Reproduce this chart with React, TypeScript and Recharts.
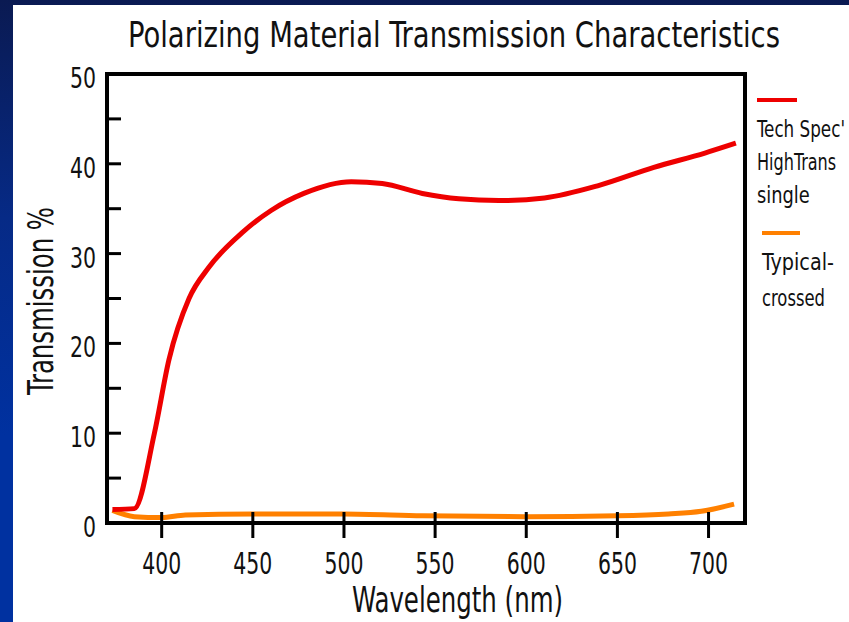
import React from 'react';
import { ComposedChart, Line, XAxis, YAxis, ReferenceArea } from 'recharts';

// wavelength ticks (nm) and transmission ticks (%)
const wavelengthTicks = [400, 450, 500, 550, 600, 650, 700];
const transmissionTicks = [0, 5, 10, 15, 20, 25, 30, 35, 40, 45, 50];

// Tech Spec HighTrans - single
const singleWavelength = [373, 385, 396, 404, 415, 426, 444, 460, 478, 504, 521, 543, 563, 585, 610, 640, 670, 698, 715];
const singleTransmission = [1.5, 1.6, 10, 18.2, 25, 28.5, 32.3, 34.8, 36.7, 38.0, 37.8, 36.7, 36.1, 35.9, 36.2, 37.6, 39.6, 41.2, 42.3];

// Typical - crossed
const crossedWavelength = [373, 385, 400, 413, 450, 500, 543, 600, 650, 678, 696, 714];
const crossedTransmission = [1.4, 0.7, 0.6, 0.9, 1.0, 1.0, 0.8, 0.7, 0.8, 1.0, 1.3, 2.1];

const legendSingle = ["Tech Spec'", 'HighTrans', 'single'];
const legendCrossed = ['Typical-', 'crossed'];

const RED = '#ee0000';
const ORANGE = '#ff8000';
const FONT = "'Liberation Sans Narrow', 'DejaVu Sans Condensed', 'Liberation Sans', sans-serif";

const singleData = singleWavelength.map((w, i) => ({ wavelength: w, transmission: singleTransmission[i] }));
const crossedData = crossedWavelength.map((w, i) => ({ wavelength: w, transmission: crossedTransmission[i] }));

const XTick = (props: any) => {
  const { x, y, payload } = props;
  const axisY = y - 10;
  const label = String(payload.value);
  return (
    <g>
      <line x1={x} x2={x} y1={axisY - 11} y2={axisY + 15} stroke="#000" strokeWidth={3} />
      <text x={x} y={axisY + 51} textAnchor="middle" fontFamily={FONT} fontSize={30} fill="#111"
        textLength={label.length * 13} lengthAdjust="spacingAndGlyphs">
        {label}
      </text>
    </g>
  );
};

const YTick = (props: any) => {
  const { x, y, payload } = props;
  const axisX = x + 10;
  const label = String(payload.value);
  const major = payload.value % 10 === 0;
  return (
    <g>
      <line x1={axisX} x2={axisX + 14} y1={y} y2={y} stroke="#000" strokeWidth={3} />
      {major && (
        <text x={x - 1} y={y + 14} textAnchor="end" fontFamily={FONT} fontSize={28} fill="#111"
          textLength={label.length * 13} lengthAdjust="spacingAndGlyphs">
          {label}
        </text>
      )}
    </g>
  );
};

export default function App() {
  return (
    <div style={{ position: 'fixed', left: 0, top: 0, width: 849, height: 622, overflow: 'hidden',
      background: 'linear-gradient(to bottom, #0a1a52 0%, #062a86 35%, #0031a0 70%, #0031a0 100%)' }}>
      <div style={{ position: 'absolute', left: 13, top: 5, right: 0, bottom: 0, background: '#ffffff' }} />
      <ComposedChart width={849} height={622} margin={{ top: 74, right: 104, bottom: 39, left: 7 }}
        style={{ position: 'absolute', left: 0, top: 0 }}>
        <XAxis type="number" dataKey="wavelength" domain={[370, 720]} ticks={wavelengthTicks} interval={0}
          allowDataOverflow axisLine={false} tickLine={false} tickSize={0} tickMargin={10} height={60}
          tick={(p: any) => <XTick {...p} />} />
        <YAxis type="number" domain={[0, 50]} ticks={transmissionTicks} interval={0}
          allowDataOverflow axisLine={false} tickLine={false} tickSize={0} tickMargin={10} width={100}
          tick={(p: any) => <YTick {...p} />} />
        <Line data={crossedData} dataKey="transmission" type="monotone" stroke={ORANGE} strokeWidth={5}
          dot={false} activeDot={false} isAnimationActive={false} />
        <Line data={singleData} dataKey="transmission" type="monotone" stroke={RED} strokeWidth={5}
          dot={false} activeDot={false} isAnimationActive={false} />
        <ReferenceArea x1={370} x2={720} y1={0} y2={50} fill="none" stroke="#000" strokeWidth={4}
          ifOverflow="visible" />
      </ComposedChart>
      <svg width={849} height={622} style={{ position: 'absolute', left: 0, top: 0, pointerEvents: 'none' }}>
        <text transform="translate(128,47) scale(1,1.2)" x={0} y={0} fontFamily={FONT} fontSize={30} fill="#111"
          textLength={652} lengthAdjust="spacingAndGlyphs">
          Polarizing Material Transmission Characteristics
        </text>
        <text x={352} y={612} fontFamily={FONT} fontSize={35} fill="#111" textLength={211} lengthAdjust="spacingAndGlyphs">
          Wavelength (nm)
        </text>
        <text transform="translate(53,395) rotate(-90)" x={0} y={0} fontFamily={FONT} fontSize={36} fill="#111"
          textLength={188} lengthAdjust="spacingAndGlyphs">
          Transmission %
        </text>
        <line x1={757} x2={797} y1={100} y2={100} stroke={RED} strokeWidth={4} />
        {legendSingle.map((t, i) => (
          <text key={t} transform={`translate(757,${137 + i * 33}) scale(1,1.25)`} x={0} y={0}
            fontFamily={FONT} fontSize={18} fill="#111"
            textLength={t.length * 8.8} lengthAdjust="spacingAndGlyphs">{t}</text>
        ))}
        <line x1={762} x2={800} y1={233} y2={233} stroke={ORANGE} strokeWidth={4} />
        {legendCrossed.map((t, i) => (
          <text key={t} transform={`translate(762,${270 + i * 36}) scale(1,1.25)`} x={0} y={0}
            fontFamily={FONT} fontSize={18} fill="#111"
            textLength={t.length * 9.0} lengthAdjust="spacingAndGlyphs">{t}</text>
        ))}
      </svg>
    </div>
  );
}
